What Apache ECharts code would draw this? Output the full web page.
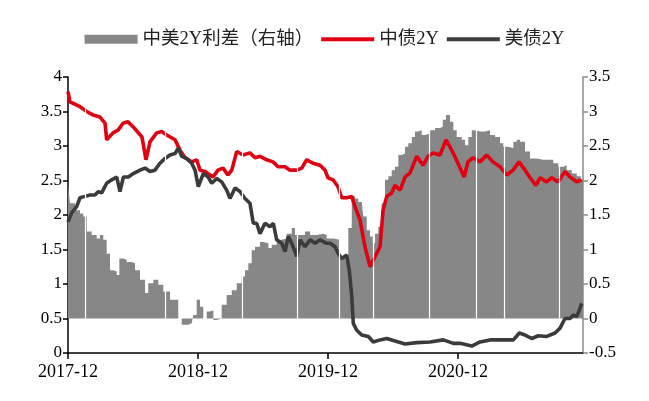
<!DOCTYPE html>
<html>
<head>
<meta charset="utf-8">
<script src="https://cdn.jsdelivr.net/npm/echarts@6/dist/echarts.min.js"></script>
<style>
  html, body { margin: 0; padding: 0; background: #fff; }
  #main { width: 649px; height: 401px; }
</style>
</head>
<body>
<div id="main"></div>
<script>
// x = months since 2017-12-01
const xTickMonths = [0, 12, 24, 36];
const xTickLabels = ['2017-12', '2018-12', '2019-12', '2020-12'];

// 中美2Y利差（右轴）
const spreadData = [
  [0, 1.95], [0.18, 1.67], [0.65, 1.57], [1.11, 1.52], [1.41, 1.48], [1.73, 1.26], [2.19, 1.21],
  [2.65, 1.16], [2.95, 1.21], [3.26, 1.14], [3.57, 0.94], [3.88, 0.70], [4.18, 0.68], [4.5, 0.63],
  [4.74, 0.87], [5.11, 0.85], [5.42, 0.82], [5.88, 0.80], [6.19, 0.70], [6.65, 0.56], [7.11, 0.37],
  [7.41, 0.51], [7.88, 0.56], [8.34, 0.49], [8.8, 0.39], [9.42, 0.27], [9.88, 0.27], [10.18, 0.0],
  [10.5, -0.09], [11.11, -0.07], [11.42, -0.09], [11.57, 0.05], [11.88, 0.27], [12.19, 0.17],
  [12.49, 0.0], [12.81, 0.10], [13.11, 0.12], [13.42, -0.02], [13.73, 0.0], [14.19, 0.20],
  [14.65, 0.34], [15.12, 0.41], [15.58, 0.51], [16.04, 0.61], [16.34, 0.70], [16.65, 0.80],
  [16.96, 0.99], [17.27, 1.04], [17.73, 1.11], [18.03, 1.09], [18.5, 1.02], [18.81, 1.07],
  [19.27, 1.14], [19.73, 1.16], [20.19, 1.23], [20.66, 1.31], [20.96, 1.21], [21.42, 1.21],
  [21.88, 1.26], [22.35, 1.21], [22.96, 1.23], [23.57, 1.21], [23.89, 1.16], [24.5, 1.14],
  [25.1, 0.9], [25.4, 0.88], [25.88, 1.31], [26.2, 1.77], [26.5, 1.74], [26.8, 1.69], [27.12, 1.69],
  [27.27, 1.48], [27.58, 1.28], [27.89, 1.19], [28.14, 1.09], [28.35, 1.23], [28.65, 1.33],
  [28.96, 1.67], [29.27, 2.01], [29.58, 2.06], [29.89, 2.15], [30.19, 2.20], [30.5, 2.37],
  [30.81, 2.39], [31.12, 2.49], [31.42, 2.54], [31.74, 2.63], [32.04, 2.71], [32.35, 2.73],
  [32.66, 2.66], [32.96, 2.68], [33.43, 2.73], [33.89, 2.76], [34.35, 2.78], [34.6, 2.88],
  [34.9, 2.95], [35.27, 2.85], [35.58, 2.73], [35.89, 2.63], [36.35, 2.59], [36.66, 2.51],
  [36.96, 2.63], [37.28, 2.73], [37.58, 2.71], [38.04, 2.71], [38.5, 2.73], [38.97, 2.66],
  [39.43, 2.63], [39.89, 2.54], [40.19, 2.49], [40.66, 2.47], [41.12, 2.56], [41.43, 2.59],
  [41.74, 2.56], [42.2, 2.42], [42.66, 2.32], [43.28, 2.30], [43.89, 2.30], [44.51, 2.30],
  [44.81, 2.25], [45.27, 2.20], [45.73, 2.22], [46.04, 2.15], [46.51, 2.10], [46.97, 2.06],
  [47.34, 2.01], [47.55, 2.01]
];

// 中债2Y
const cnData = [
  [0, 3.79], [0.18, 3.64], [1.11, 3.57], [1.73, 3.50], [2.31, 3.45], [2.95, 3.42], [3.42, 3.33],
  [3.57, 3.09], [4.16, 3.19], [4.62, 3.23], [5.08, 3.33], [5.54, 3.35], [6.0, 3.28], [6.83, 3.13],
  [7.2, 2.80], [7.57, 3.06], [8.19, 3.19], [8.65, 3.21], [9.11, 3.16], [9.88, 3.09], [10.34, 2.94],
  [10.8, 2.83], [11.42, 2.77], [11.88, 2.80], [12.19, 2.65], [12.65, 2.63], [13.39, 2.55],
  [13.85, 2.65], [14.31, 2.68], [14.77, 2.58], [15.12, 2.65], [15.58, 2.92], [16.16, 2.87],
  [16.8, 2.90], [17.27, 2.83], [17.73, 2.85], [18.35, 2.80], [18.93, 2.77], [19.39, 2.70],
  [20.04, 2.70], [20.5, 2.65], [21.12, 2.65], [21.58, 2.68], [22.04, 2.80], [22.62, 2.75],
  [23.27, 2.72], [23.73, 2.65], [24.0, 2.54], [24.47, 2.51], [24.93, 2.41], [25.27, 2.25],
  [25.73, 2.25], [26.2, 2.27], [26.5, 2.12], [26.96, 1.93], [27.42, 1.54], [27.89, 1.25],
  [28.35, 1.40], [28.81, 1.54], [29.09, 2.07], [29.43, 2.27], [29.89, 2.32], [30.19, 2.43],
  [30.66, 2.36], [31.12, 2.55], [31.58, 2.61], [32.2, 2.85], [32.78, 2.72], [33.24, 2.85],
  [33.7, 2.90], [34.35, 2.87], [34.9, 3.09], [35.43, 2.94], [36.01, 2.75], [36.57, 2.55],
  [36.93, 2.77], [37.4, 2.83], [38.04, 2.77], [38.66, 2.87], [39.24, 2.77], [39.89, 2.70],
  [40.51, 2.58], [41.09, 2.65], [41.64, 2.77], [42.2, 2.65], [42.66, 2.54], [43.21, 2.43],
  [43.58, 2.54], [44.2, 2.48], [44.66, 2.54], [45.24, 2.48], [45.89, 2.63], [46.35, 2.55],
  [46.97, 2.48], [47.43, 2.51]
];

// 美债2Y
const usData = [
  [0, 1.90], [0.34, 2.03], [0.8, 2.12], [1.11, 2.25], [1.57, 2.27], [2.03, 2.29], [2.49, 2.29],
  [2.8, 2.34], [3.11, 2.32], [3.57, 2.46], [4.04, 2.51], [4.5, 2.55], [4.8, 2.34], [5.11, 2.55],
  [5.57, 2.55], [6.03, 2.60], [6.65, 2.65], [7.11, 2.68], [7.57, 2.63], [8.03, 2.65], [8.49, 2.75],
  [8.96, 2.82], [9.42, 2.87], [9.88, 2.89], [10.18, 2.97], [10.5, 2.85], [10.96, 2.82],
  [11.42, 2.75], [11.73, 2.65], [12.03, 2.41], [12.49, 2.60], [12.95, 2.55], [13.27, 2.46],
  [13.73, 2.53], [14.19, 2.48], [14.65, 2.36], [14.96, 2.24], [15.42, 2.39], [15.88, 2.34],
  [16.34, 2.24], [16.8, 2.17], [17.11, 1.88], [17.42, 1.88], [17.73, 1.73], [18.19, 1.88],
  [18.65, 1.83], [18.96, 1.88], [19.27, 1.64], [19.73, 1.59], [20.04, 1.47], [20.34, 1.69],
  [20.66, 1.59], [21.12, 1.40], [21.42, 1.64], [21.88, 1.54], [22.35, 1.64], [22.81, 1.59],
  [23.27, 1.64], [23.89, 1.59], [24.19, 1.59], [24.65, 1.54], [24.96, 1.44], [25.27, 1.37],
  [25.73, 1.42], [25.97, 1.20], [26.2, 0.82], [26.34, 0.43], [26.66, 0.33], [27.12, 0.26],
  [27.73, 0.24], [28.19, 0.16], [28.81, 0.19], [29.43, 0.21], [30.04, 0.18], [31.12, 0.13],
  [32.2, 0.15], [33.43, 0.16], [34.65, 0.19], [35.58, 0.14], [36.2, 0.14], [37.28, 0.10],
  [38.04, 0.16], [38.97, 0.19], [39.89, 0.19], [41.12, 0.19], [41.67, 0.29], [42.2, 0.26],
  [42.82, 0.21], [43.43, 0.25], [44.2, 0.24], [44.97, 0.29], [45.43, 0.36], [45.89, 0.50],
  [46.35, 0.50], [46.66, 0.55], [46.97, 0.53], [47.21, 0.62], [47.43, 0.72]
];

// thin white breaks in the spread bars (missing days)
const gapMonths = [1.63, 9.02, 16.09, 21.19, 25.05, 28.19, 33.31, 37.67, 40.29, 45.37];

const serif = "'Liberation Serif', 'Noto Sans CJK SC', serif";

const chart = echarts.init(document.getElementById('main'), null, { renderer: 'canvas' });
chart.setOption({
  animation: false,
  backgroundColor: '#fff',
  textStyle: { fontFamily: serif },
  legend: {
    top: 25,
    left: 'center',
    itemWidth: 53,
    itemHeight: 9,
    itemGap: 6,
    lineStyle: { width: 4 },
    textStyle: { fontFamily: serif, fontSize: 18.5, color: '#222' },
    data: [
      { name: '中美2Y利差（右轴）', icon: 'rect' },
      { name: '中债2Y', itemStyle: { opacity: 0 } },
      { name: '美债2Y', itemStyle: { opacity: 0 } }
    ]
  },
  grid: { left: 68, right: 66, top: 77, bottom: 48 },
  xAxis: {
    type: 'value',
    min: 0,
    max: 47.55,
    axisLine: { lineStyle: { color: '#000', width: 1.5 } },
    axisTick: { show: true, length: 6, customValues: xTickMonths, lineStyle: { color: '#000', width: 1.5 } },
    axisLabel: {
      customValues: xTickMonths,
      margin: 10,
      fontSize: 18,
      color: '#000',
      fontFamily: serif,
      formatter: function (v) {
        const i = xTickMonths.indexOf(Math.round(v));
        return i >= 0 ? xTickLabels[i] : '';
      }
    },
    splitLine: { show: false }
  },
  yAxis: [
    {
      type: 'value',
      min: 0, max: 4, interval: 0.5,
      position: 'left',
      axisLine: { show: true, lineStyle: { color: '#000', width: 1.5 } },
      axisTick: { show: true, length: 5, lineStyle: { color: '#000', width: 1.5 } },
      axisLabel: { fontSize: 17, color: '#000', fontFamily: serif, margin: 6 },
      splitLine: { show: false }
    },
    {
      type: 'value',
      min: -0.5, max: 3.5, interval: 0.5,
      position: 'right',
      axisLine: { show: true, lineStyle: { color: '#8c8c8c', width: 1.5 } },
      axisTick: { show: true, length: 5, lineStyle: { color: '#8c8c8c', width: 1.5 } },
      axisLabel: { fontSize: 17, color: '#000', fontFamily: serif, margin: 6 },
      splitLine: { show: false }
    }
  ],
  series: [
    {
      name: '中美2Y利差（右轴）',
      type: 'line',
      yAxisIndex: 1,
      step: 'end',
      symbol: 'none',
      z: 2,
      itemStyle: { color: '#878787' },
      lineStyle: { width: 0, color: '#878787' },
      areaStyle: { color: '#878787', opacity: 1, origin: 'auto' },
      data: spreadData,
      markLine: {
        silent: true,
        symbol: 'none',
        label: { show: false },
        lineStyle: { color: '#fff', width: 1.2, type: 'solid' },
        data: gapMonths.map(m => [{ coord: [m, 0] }, { coord: [m, 3.5] }])
      }
    },
    {
      name: '中债2Y',
      type: 'line',
      yAxisIndex: 0,
      symbol: 'none',
      z: 3,
      itemStyle: { color: '#e00012' },
      lineStyle: { color: '#e00012', width: 3.6 },
      data: cnData
    },
    {
      name: '美债2Y',
      type: 'line',
      yAxisIndex: 0,
      symbol: 'none',
      z: 4,
      itemStyle: { color: '#3b3b3b' },
      lineStyle: { color: '#3b3b3b', width: 3.6 },
      data: usData
    }
  ]
});
</script>
</body>
</html>
